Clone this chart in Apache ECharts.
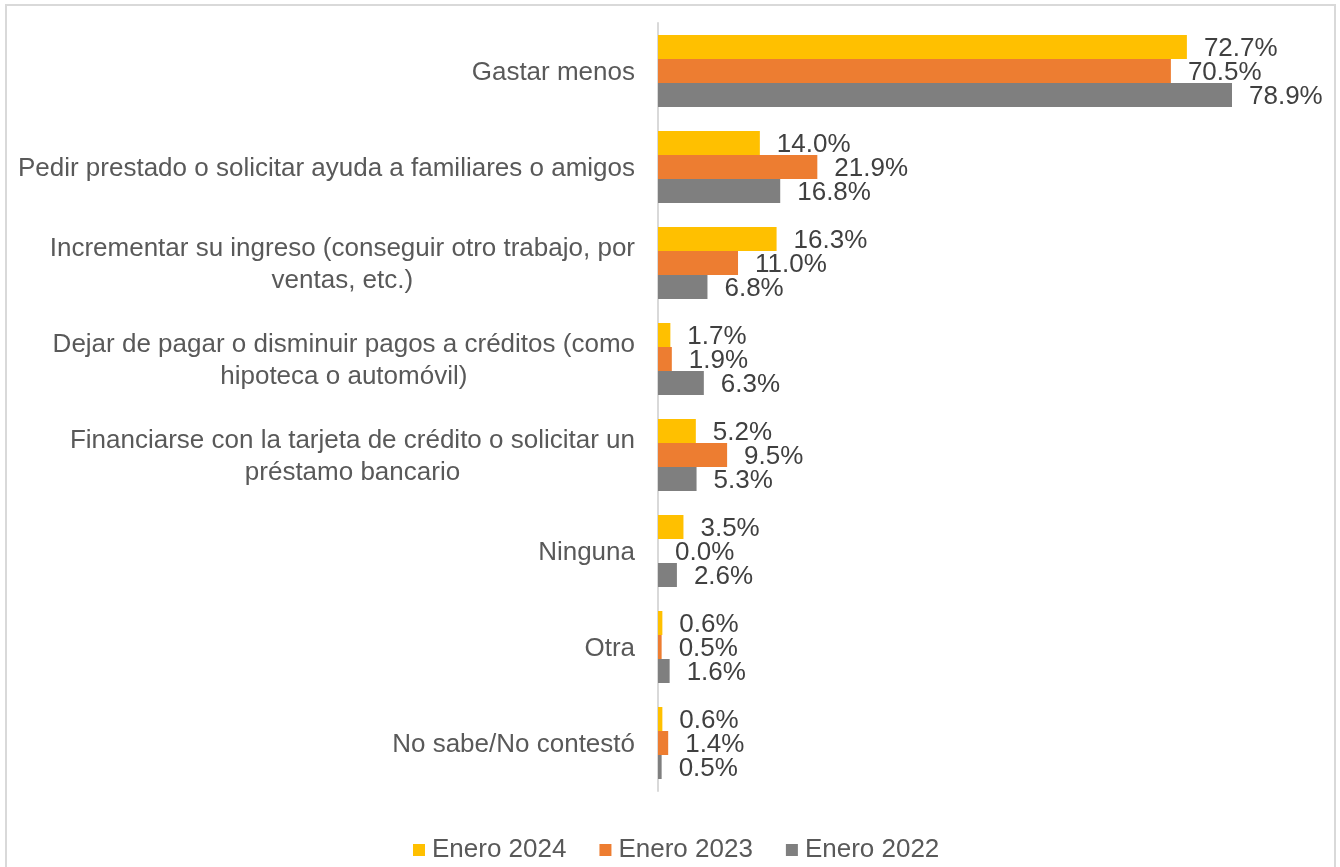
<!DOCTYPE html>
<html>
<head>
<meta charset="utf-8">
<script src="https://cdn.jsdelivr.net/npm/echarts@6/dist/echarts.min.js"></script>
<style>
html,body{margin:0;padding:0;background:#fff;}
#c{width:1340px;height:867px;}
</style>
</head>
<body>
<div id="c"></div>
<script>
const categories = [
  "Gastar menos",
  "Pedir prestado o solicitar ayuda a familiares o amigos",
  "Incrementar su ingreso (conseguir otro trabajo, por\nventas, etc.)",
  "Dejar de pagar o disminuir pagos a créditos (como\nhipoteca o automóvil)",
  "Financiarse con la tarjeta de crédito o solicitar un\npréstamo bancario",
  "Ninguna",
  "Otra",
  "No sabe/No contestó"
];
const seriesNames = ["Enero 2024", "Enero 2023", "Enero 2022"];
const enero2024 = [72.7, 14.0, 16.3, 1.7, 5.2, 3.5, 0.6, 0.6];
const enero2023 = [70.5, 21.9, 11.0, 1.9, 9.5, 0.0, 0.5, 1.4];
const enero2022 = [78.9, 16.8, 6.8, 6.3, 5.3, 2.6, 1.6, 0.5];
const colors = ["#FFC000", "#ED7D31", "#7F7F7F"];

const chart = echarts.init(document.getElementById('c'));
const FONT = 'Liberation Sans, Arial, sans-serif';

function mk(name, data, color) {
  return {
    name: name,
    type: 'bar',
    data: data,
    barGap: '0%',
    barCategoryGap: '25%',
    itemStyle: { color: color },
    label: {
      show: true,
      position: 'right',
      distance: 17,
      offset: [0, 2],
      formatter: p => p.value.toFixed(1) + '%',
      fontSize: 26,
      fontFamily: FONT,
      color: '#404040'
    },
    emphasis: { disabled: true },
    animation: false
  };
}

chart.setOption({
  animation: false,
  color: colors,
  graphic: [{
    type: 'rect',
    shape: { x: 6, y: 5, width: 1329, height: 900 },
    style: { fill: 'none', stroke: '#d9d9d9', lineWidth: 2 },
    silent: true, z: -1
  }],
  grid: { left: 658, top: 23, height: 768, width: 582, containLabel: false },
  xAxis: {
    type: 'value', min: 0, max: 80,
    show: false
  },
  yAxis: {
    type: 'category',
    data: categories,
    inverse: true,
    axisLine: { show: true, lineStyle: { color: '#d9d9d9', width: 2 } },
    axisTick: { show: false },
    axisLabel: {
      margin: 23,
      fontSize: 26,
      fontFamily: FONT,
      color: '#595959',
      lineHeight: 32,
      align: 'right',
      formatter: v => v.split('\n').map(l => '{c|' + l + '}').join('\n'),
      rich: { c: { align: 'center', fontSize: 26, fontFamily: FONT, color: '#595959', lineHeight: 32, padding: [4, 0, 0, 0] } }
    },
    splitLine: { show: false }
  },
  legend: {
    data: seriesNames,
    top: 832,
    left: 408,
    itemWidth: 12,
    itemHeight: 12,
    itemGap: 33,
    icon: 'rect',
    textStyle: { fontSize: 26, fontFamily: FONT, color: '#595959', padding: [0, 0, 0, 2] }
  },
  series: [
    mk(seriesNames[0], enero2024, colors[0]),
    mk(seriesNames[1], enero2023, colors[1]),
    mk(seriesNames[2], enero2022, colors[2])
  ]
});
</script>
</body>
</html>
